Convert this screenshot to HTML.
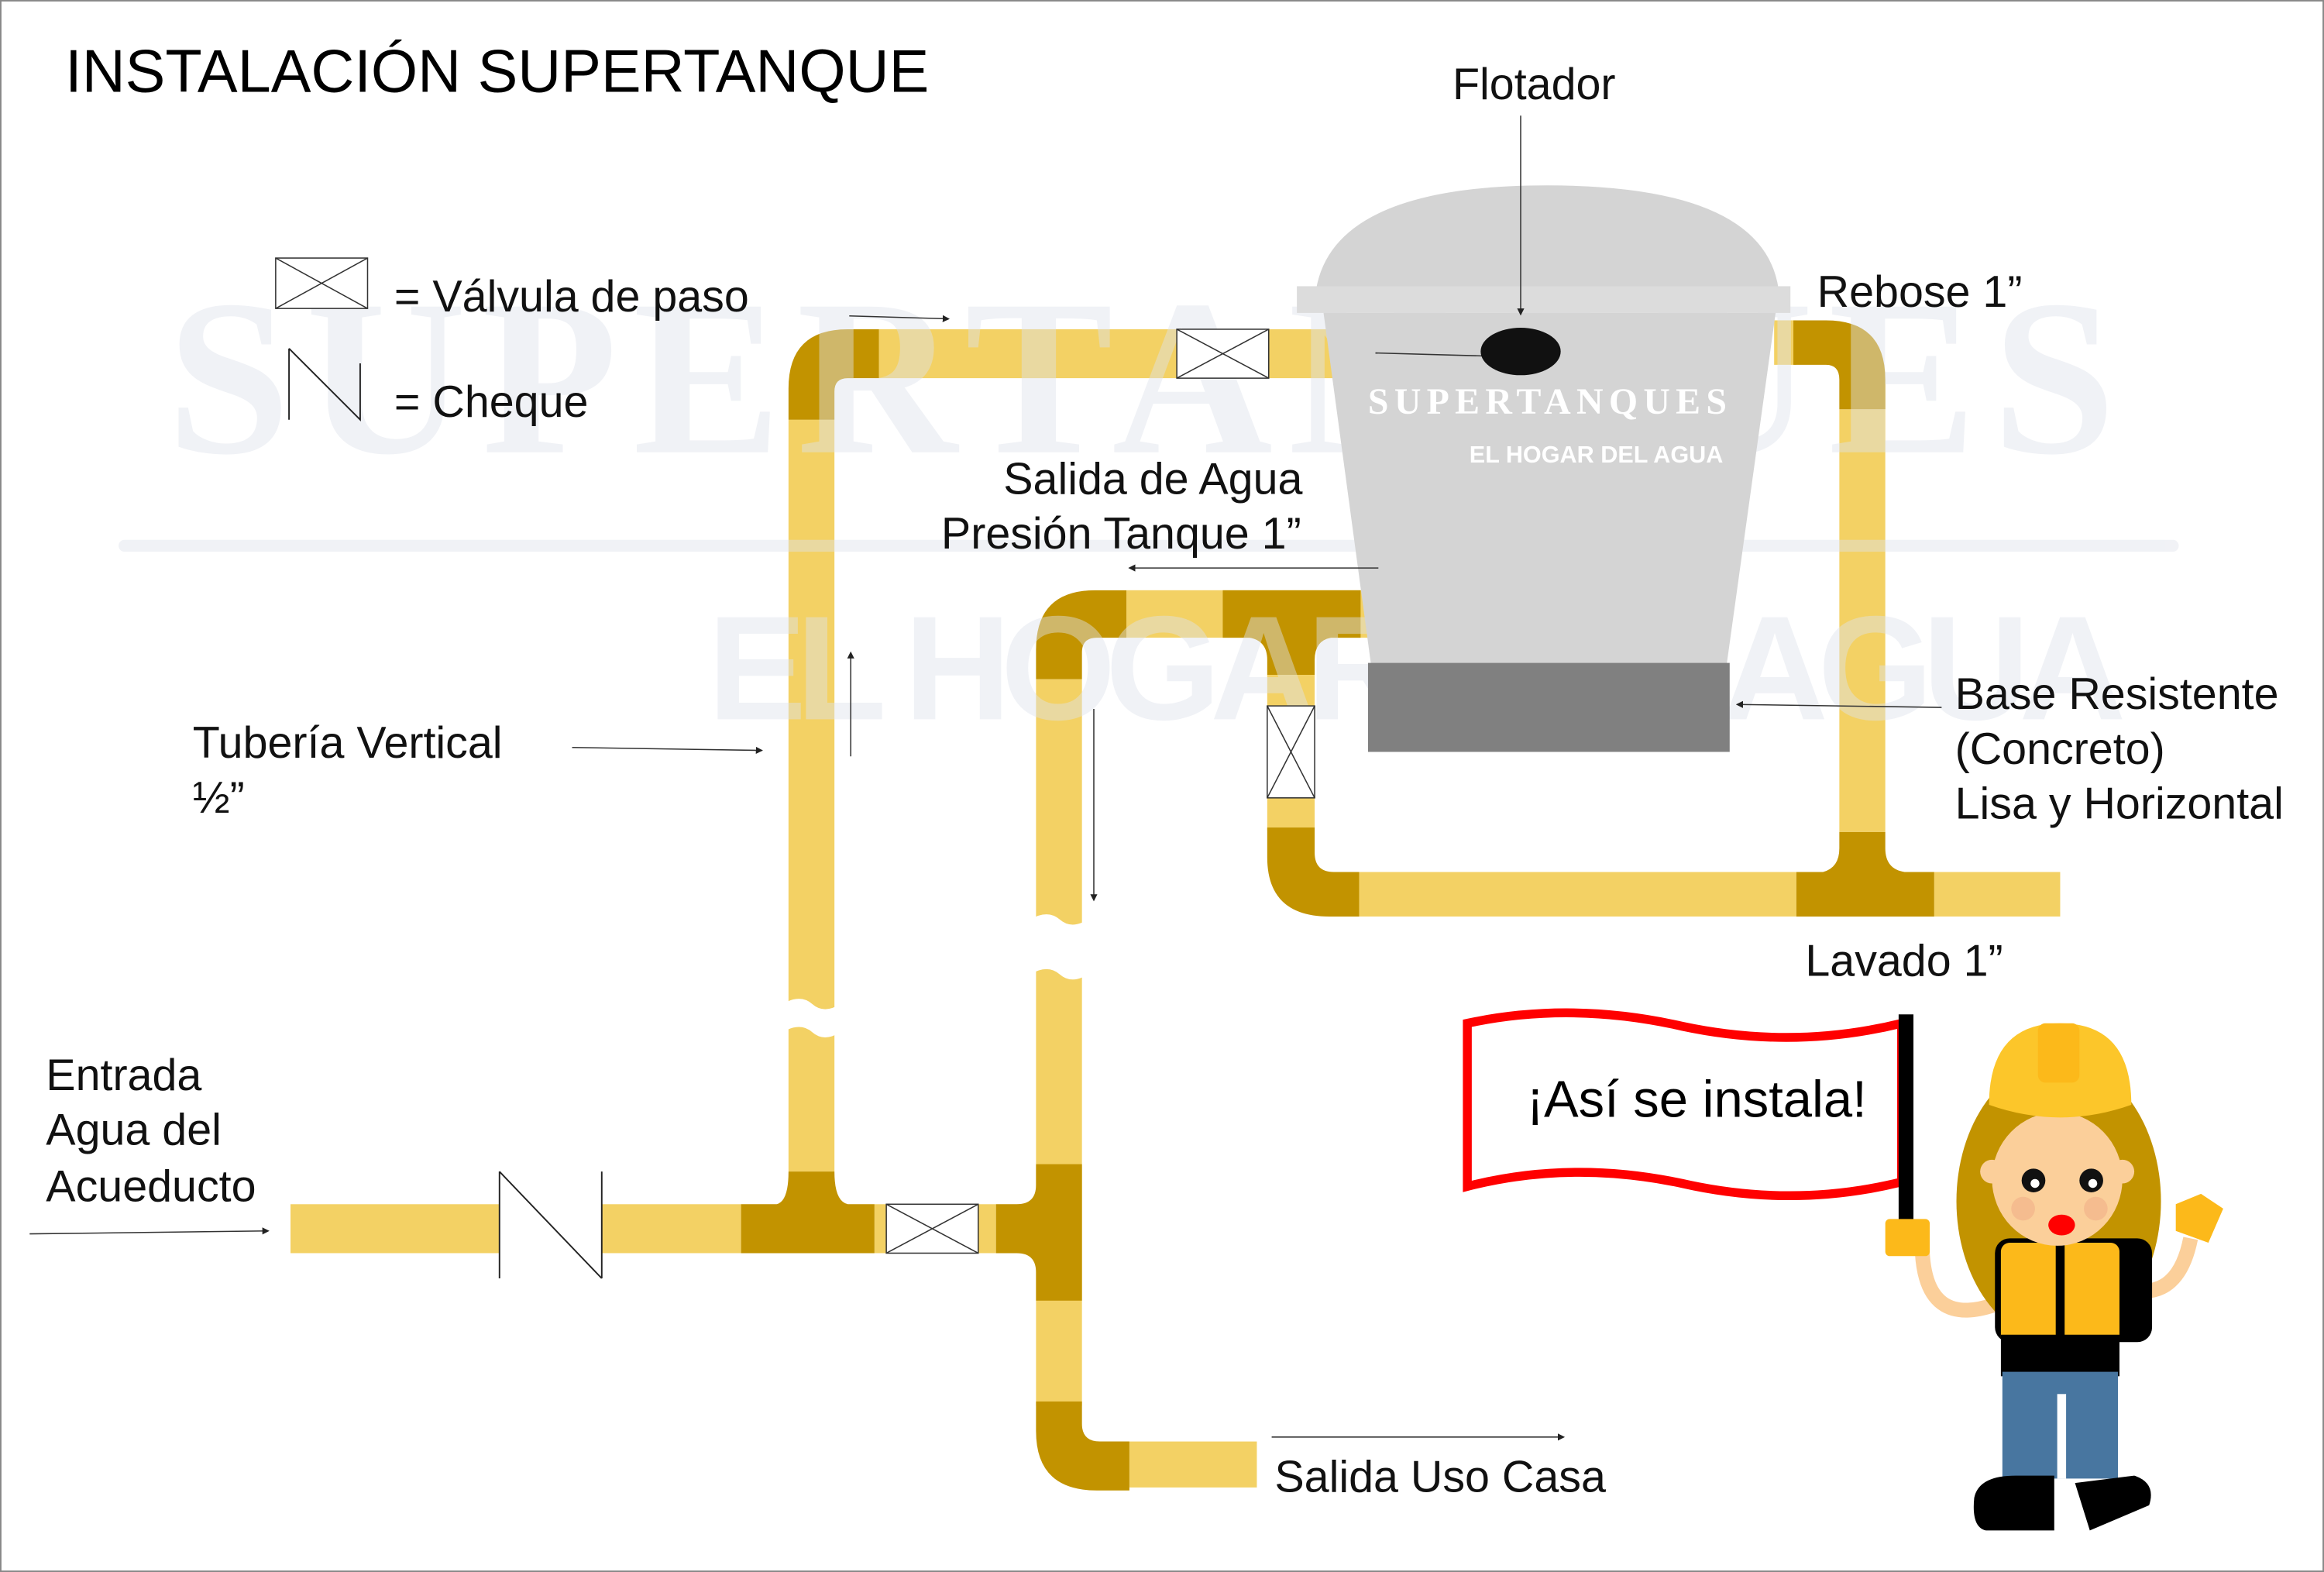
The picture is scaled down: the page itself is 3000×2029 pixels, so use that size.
<!DOCTYPE html>
<html><head><meta charset="utf-8"><style>html,body{margin:0;padding:0;background:#fff}svg{display:block}</style></head>
<body>
<svg width="3000" height="2029" viewBox="0 0 1568 1060" preserveAspectRatio="none" xmlns="http://www.w3.org/2000/svg" font-family="Liberation Sans, sans-serif">
<rect x="0.5" y="0.5" width="1567" height="1059" fill="#fff" stroke="#888" stroke-width="1"/>
<text x="44" y="62" font-size="40.5" fill="#000">INSTALACIÓN SUPERTANQUE</text>

<g fill="#f3d164">
<rect x="593" y="222" width="330" height="33"/>
<rect x="532" y="283" width="31" height="507"/>
<rect x="196" y="812" width="304" height="33"/>
<rect x="590" y="812" width="82" height="33"/>
<rect x="699" y="458" width="31" height="490"/>
<rect x="762" y="972" width="86" height="31"/>
<rect x="760" y="398" width="245" height="32"/>
<rect x="855" y="455" width="32" height="105"/>
<rect x="917" y="588" width="295" height="30"/>
<rect x="1305" y="588" width="85" height="30"/>
<rect x="1241" y="276" width="31" height="285"/>
<rect x="1197" y="216" width="15" height="30"/>
</g>
<g fill="#c29300">
<path d="M532,283 L532,262 Q532,222 572,222 L593,222 L593,255 L572,255 Q563,255 563,264 L563,283 Z"/>
<path d="M500,845 L500,812 L524,812 Q532,810 532,790 L563,790 Q563,810 572,812 L590,812 L590,845 Z"/>
<path d="M699,785 L730,785 L730,877 L699,877 L699,858 Q699,845 686,845 L672,845 L672,812 L686,812 Q699,812 699,799 Z"/>
<path d="M699,945 L730,945 L730,960 Q730,972 742,972 L762,972 L762,1005 L740,1005 Q699,1005 699,965 Z"/>
<path d="M699,458 L699,438 Q699,398 739,398 L760,398 L760,430 L740,430 Q730,430 730,440 L730,458 Z"/>
<path d="M825,398 L918,398 L918,430 L898,430 Q887,432 887,445 L887,455 L855,455 L855,445 Q855,432 843,430 L825,430 Z"/>
<path d="M855,558 L887,558 L887,575 Q887,588 900,588 L917,588 L917,618 L897,618 Q855,618 855,578 Z"/>
<path d="M1212,588 L1230,588 Q1241,585 1241,572 L1241,561 L1272,561 L1272,572 Q1272,586 1285,588 L1305,588 L1305,618 L1212,618 Z"/>
<path d="M1210,216 L1232,216 Q1272,216 1272,256 L1272,276 L1241,276 L1241,256 Q1241,246 1232,246 L1210,246 Z"/>
</g>
<path d="M528,677 Q540,670 548,677 Q556,684 567,677 L567,696 Q556,703 548,696 Q540,689 528,696 Z" fill="#fff"/>
<path d="M695,620 Q707,613 715,620 Q723,627 734,620 L734,657 Q723,664 715,657 Q707,650 695,657 Z" fill="#fff"/>

<!-- watermark -->
<g opacity="0.45">
<text x="770" y="305" font-size="150" font-family="Liberation Serif, serif" font-weight="bold" fill="#dfe3ec" text-anchor="middle" textLength="1315">SUPERTANQUES</text>
<rect x="80" y="364" width="1390" height="8" rx="4" fill="#dfe3ec"/>
<text x="956" y="485" font-size="100" font-weight="bold" fill="#dfe3ec" text-anchor="middle" textLength="957">EL HOGAR DEL AGUA</text>
</g>

<!-- tank -->
<path d="M888,195 Q900,125 1044,125 Q1190,125 1200,195 Z" fill="#d4d4d4"/>
<rect x="875" y="193" width="333" height="18" fill="#dcdcdc"/>
<path d="M893,211 L1198,211 L1165,448 L925,448 Z" fill="#d4d4d4"/>
<rect x="923" y="447" width="244" height="60" fill="#808080"/>
<text x="1044" y="279" font-size="25" font-family="Liberation Serif, serif" font-weight="bold" fill="#fff" text-anchor="middle" textLength="242">SUPERTANQUES</text>
<text x="1077" y="312" font-size="16" font-weight="bold" fill="#fff" text-anchor="middle">EL HOGAR DEL AGUA</text>

<!-- valves -->
<g fill="#fff" stroke="#333" stroke-width="0.8">
<rect x="794" y="222" width="62" height="33"/><line x1="794" y1="222" x2="856" y2="255"/><line x1="794" y1="255" x2="856" y2="222"/>
<rect x="598" y="812" width="62" height="33"/><line x1="598" y1="812" x2="660" y2="845"/><line x1="598" y1="845" x2="660" y2="812"/>
<rect x="855" y="476" width="32" height="62"/><line x1="855" y1="476" x2="887" y2="538"/><line x1="887" y1="476" x2="855" y2="538"/>
<rect x="186" y="174" width="62" height="34"/><line x1="186" y1="174" x2="248" y2="208"/><line x1="186" y1="208" x2="248" y2="174"/>
</g>
<rect x="337" y="805" width="69" height="50" fill="#fff"/>
<g stroke="#222" stroke-width="1" fill="none">
<polyline points="337,790 337,862"/><polyline points="337,790 406,862"/><polyline points="406,790 406,862"/>
<polyline points="195,235 195,283"/><polyline points="195,235 243,283 243,245"/>
</g>

<g font-size="30" fill="#111">
<text x="980" y="67">Flotador</text>
<text x="266" y="210">= Válvula de paso</text>
<text x="266" y="281">= Cheque</text>
<text x="1226" y="207">Rebose 1”</text>
<text x="677" y="333">Salida de Agua</text>
<text x="635" y="370">Presión Tanque 1”</text>
<text x="1319" y="478">Base Resistente</text>
<text x="1319" y="515">(Concreto)</text>
<text x="1319" y="552">Lisa y Horizontal</text>
<text x="1218" y="658">Lavado 1”</text>
<text x="130" y="511">Tubería Vertical</text>
<text x="130" y="548">½”</text>
<text x="31" y="735">Entrada</text>
<text x="31" y="772">Agua del</text>
<text x="31" y="810">Acueducto</text>
<text x="860" y="1006">Salida Uso Casa</text>
</g>
<defs><marker id="a" markerWidth="6" markerHeight="6" refX="5" refY="3" orient="auto"><path d="M0,0 L6,3 L0,6 Z" fill="#222"/></marker></defs>
<g stroke="#333" stroke-width="0.8" marker-end="url(#a)">
<line x1="1026" y1="78" x2="1026" y2="212"/>
<line x1="1000" y1="240" x2="928" y2="238" marker-end="none"/>
<line x1="930" y1="383" x2="762" y2="383"/>
<line x1="1310" y1="477" x2="1172" y2="475"/>
<line x1="386" y1="504" x2="514" y2="506"/>
<line x1="20" y1="832" x2="181" y2="830"/>
<line x1="858" y1="969" x2="1055" y2="969"/>
<line x1="573" y1="213" x2="640" y2="215"/>
<line x1="574" y1="510" x2="574" y2="440"/>
<line x1="738" y1="478" x2="738" y2="607"/>
</g>
<ellipse cx="1026" cy="237" rx="27" ry="16" fill="#111"/>

<!-- flag -->
<path d="M990,690 Q1060,675 1135,692 Q1210,708 1283,690 L1283,797 Q1210,815 1135,798 Q1060,782 990,800 Z" fill="#fff" stroke="#f00" stroke-width="6"/>
<text x="1030" y="753" font-size="35" fill="#000">¡Así se instala!</text>
<rect x="1281" y="684" width="10" height="150" fill="#000"/>

<!-- girl -->
<path d="M1297,845 Q1300,895 1345,880" stroke="#fbcf9a" stroke-width="10" fill="none"/>
<path d="M1478,835 Q1470,875 1440,870" stroke="#fbcf9a" stroke-width="10" fill="none"/>
<ellipse cx="1389" cy="810" rx="69" ry="95" fill="#c29300"/>
<rect x="1346" y="835" width="106" height="70" rx="10" fill="#000"/>
<rect x="1350" y="838" width="80" height="70" rx="6" fill="#fcb91a"/>
<rect x="1387" y="838" width="6" height="70" fill="#000"/>
<rect x="1350" y="900" width="80" height="28" fill="#000"/>
<rect x="1351" y="925" width="78" height="72" fill="#4876a0"/>
<rect x="1388" y="940" width="6" height="57" fill="#fff"/>
<path d="M1332,1010 Q1335,995 1360,995 L1386,995 L1386,1032 L1340,1032 Q1330,1030 1332,1010 Z" fill="#000"/>
<path d="M1400,1000 L1440,995 Q1455,1000 1450,1015 L1410,1032 Z" fill="#000"/>
<ellipse cx="1388" cy="795" rx="44" ry="45" fill="#fbcf9a"/>
<circle cx="1344" cy="790" r="8" fill="#fbcf9a"/><circle cx="1432" cy="790" r="8" fill="#fbcf9a"/>
<circle cx="1372" cy="796" r="8" fill="#111"/><circle cx="1411" cy="796" r="8" fill="#111"/>
<circle cx="1373" cy="798" r="3" fill="#fff"/><circle cx="1412" cy="798" r="3" fill="#fff"/>
<ellipse cx="1391" cy="826" rx="9" ry="7" fill="#f00"/>
<circle cx="1365" cy="815" r="8" fill="#f2b48a" opacity="0.7"/><circle cx="1414" cy="815" r="8" fill="#f2b48a" opacity="0.7"/>
<path d="M1342,745 Q1342,690 1390,690 Q1438,690 1438,745 Q1390,762 1342,745 Z" fill="#fcc62a"/>
<rect x="1375" y="690" width="28" height="40" rx="5" fill="#fcb91a"/>
<rect x="1272" y="822" width="30" height="25" rx="3" fill="#fcb91a"/>
<path d="M1468,812 L1485,805 L1500,815 L1490,838 L1468,830 Z" fill="#fcb91a"/>
</svg>
</body></html>
